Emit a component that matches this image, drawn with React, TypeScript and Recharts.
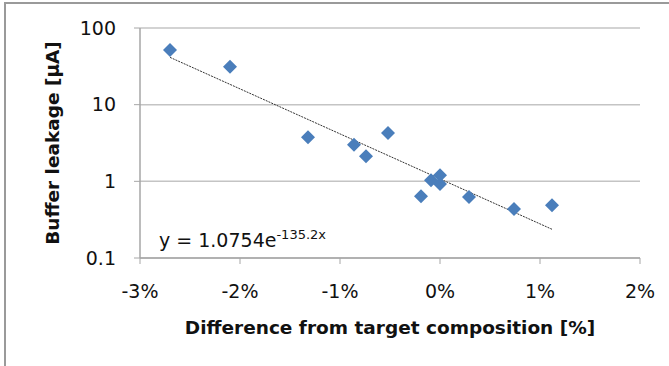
import React from 'react';
import { ScatterChart, Scatter, XAxis, YAxis, CartesianGrid, Label } from 'recharts';

const compositionDiff = [-2.70, -2.10, -1.32, -0.86, -0.74, -0.52, -0.19, -0.09, 0.00, 0.00, 0.29, 0.74, 1.12];
const leakage = [51.7, 31.3, 3.76, 3.01, 2.12, 4.27, 0.64, 1.03, 1.20, 0.925, 0.627, 0.436, 0.488];
const trendX = [-2.70, 1.12];
const trendY = [41.4, 0.237];
const xTicks = [-3, -2, -1, 0, 1, 2];
const yTicks = [0.1, 1, 10, 100];
const xTitle = 'Difference from target composition [%]';
const yTitle = 'Buffer leakage [μA]';
const equationMain = 'y = 1.0754e';
const equationExp = '-135.2x';

const points = compositionDiff.map((x, i) => ({ x, y: leakage[i] }));
const trend = trendX.map((x, i) => ({ x, y: trendY[i] }));

const FONT = '"DejaVu Sans", sans-serif';

const Diamond = (props: any) => {
  const { cx, cy } = props;
  const r = 7;
  return (
    <path
      d={`M${cx},${cy - r}L${cx + r},${cy}L${cx},${cy + r}L${cx - r},${cy}Z`}
      fill="#4a7ebb"
    />
  );
};

const NoShape = () => <g />;

export default function App() {
  return (
    <div style={{ position: 'absolute', left: 0, top: 0, width: 669, height: 366, background: '#fff' }}>
      <div
        style={{
          position: 'absolute',
          left: 4,
          top: 2,
          width: 665,
          height: 364,
          borderTop: '2px solid #9a9a9a',
          borderLeft: '2px solid #9a9a9a',
          boxSizing: 'border-box',
        }}
      />
      <ScatterChart
        width={669}
        height={366}
        margin={{ top: 28, right: 29, bottom: 30, left: 0 }}
        style={{ position: 'absolute', left: 0, top: 0 }}
      >
        <CartesianGrid vertical={false} stroke="#c4c4c4" strokeWidth={1.5} />
        <XAxis
          type="number"
          dataKey="x"
          domain={[-3, 2]}
          ticks={xTicks}
          tickFormatter={(v: number) => `${v}%`}
          height={78}
          tickSize={6}
          tickMargin={21}
          axisLine={{ stroke: '#a6a6a6', strokeWidth: 1.5 }}
          tickLine={{ stroke: '#a6a6a6' }}
          tick={{ fill: '#111', fontFamily: FONT, fontSize: 19 }}
          allowDataOverflow
        >
          <Label
            value={xTitle}
            position="insideBottom"
            offset={2}
            style={{ fontFamily: FONT, fontSize: 18.5, fontWeight: 'bold', fill: '#111' }}
          />
        </XAxis>
        <YAxis
          type="number"
          dataKey="y"
          scale="log"
          domain={[0.1, 100]}
          ticks={yTicks}
          tickFormatter={(v: number) => String(v)}
          width={140}
          tickSize={6}
          tickMargin={18}
          axisLine={{ stroke: '#a6a6a6', strokeWidth: 1.5 }}
          tickLine={{ stroke: '#a6a6a6' }}
          tick={{ fill: '#111', fontFamily: FONT, fontSize: 19 }}
          allowDataOverflow
        >
          <Label
            value={yTitle}
            angle={-90}
            position="insideLeft"
            offset={52}
            style={{ textAnchor: 'middle', fontFamily: FONT, fontSize: 18.5, fontWeight: 'bold', fill: '#111' }}
          />
        </YAxis>
        <Scatter
          data={trend}
          line={{ stroke: '#333', strokeWidth: 1, strokeDasharray: '2 1' }}
          shape={NoShape}
          isAnimationActive={false}
        />
        <Scatter data={points} shape={Diamond} isAnimationActive={false} />
      </ScatterChart>
      <svg width={669} height={366} style={{ position: 'absolute', left: 0, top: 0, pointerEvents: 'none' }}>
        <text x={159} y={247} fontFamily={FONT} fontSize={19} fill="#111">
          {equationMain}
          <tspan dy={-8} fontSize={13}>{equationExp}</tspan>
        </text>
      </svg>
    </div>
  );
}
